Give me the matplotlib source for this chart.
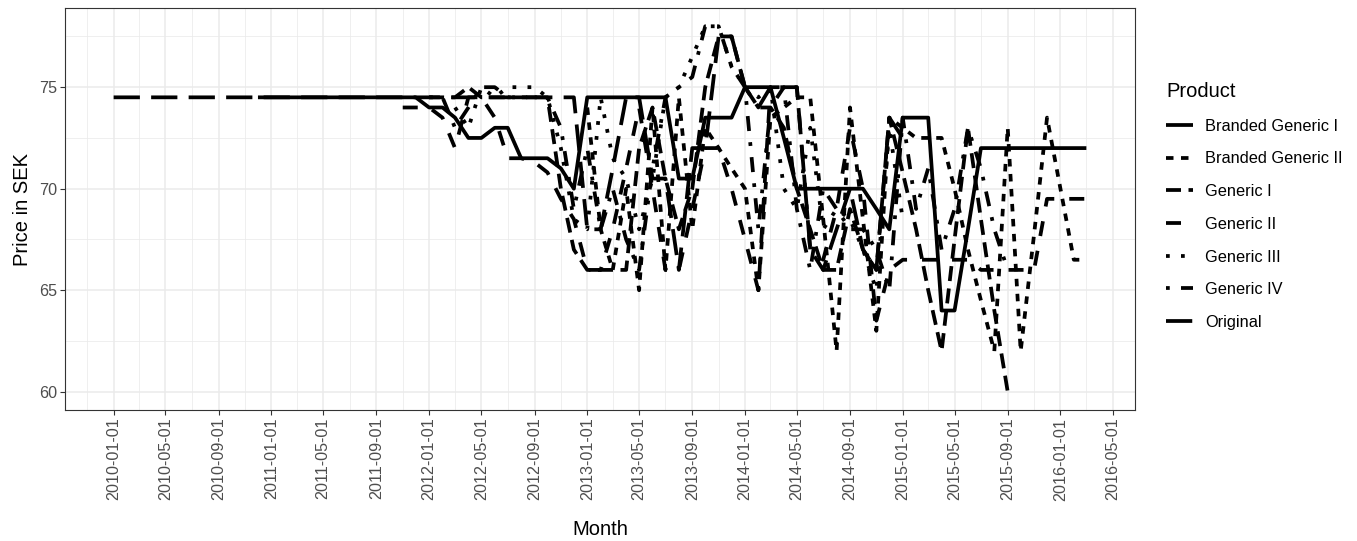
import numpy as np
import pandas as pd
import matplotlib
matplotlib.use('Agg')
import matplotlib.pyplot as plt
from matplotlib.lines import Line2D

plt.rcParams['font.family'] = ['Liberation Sans', 'DejaVu Sans']

# monthly prices, first month 2010-01; each series starts at its own month
months = pd.date_range('2010-01-01', '2016-03-01', freq='MS')

products = ['Branded Generic I', 'Branded Generic II', 'Generic I', 'Generic II',
            'Generic III', 'Generic IV', 'Original']

# start index (months after 2010-01) and values
bg1_start = 11
bg1 = [74.5] * 13 + [74, 74, 73.5, 72.5, 72.5, 73, 73, 71.5, 71.5, 71.5, 71, 70] \
      + [74.5] * 7 + [70.5, 70.5, 73.5, 73.5, 73.5, 75, 75, 75, 72.5, 70, 70, 70, 70, 70, 70,
                      69, 68, 73.5, 73.5, 73.5, 64, 64, 68, 72] + [72] * 8

bg2_start = 36
bg2 = [74, 68, 66, 70, 65, 74, 66, 74.5, 68, 73, 72, 71, 70, 65, 73.5, 74, 74.5,
       74.5, 68.5, 62, 74, 68.5, 63, 73.5, 73, 72.5, 72.5, 72.5, 70, 67, 64.5,
       62, 73, 62, 67.75, 73.5, 70, 66.5, 66.5]

g1_start = 24
g1 = [74.5, 74.5, 74.5, 75, 74.5, 74.5, 74.5, 74.5, 74.5, 74.5, 70, 67,
      66, 66, 66, 66, 72, 74, 70.5, 68, 70, 75, 77.5, 77.5, 75, 74, 74, 73, 70,
      68, 66, 66, 69, 67, 66, 73.5, 70.8, 68, 65, 62, 67.5, 73, 68.5, 64, 60]

g2_start = 22
g2 = [74, 74, 74, 73.5, 72, 74.5, 74.5, 73.5, 71.5, 71.5, 71.3, 70.8, 69.5, 68.5,
      66, 66, 68, 71, 74, 70, 66, 66, 69, 72, 72, 70, 67.5, 65, 75, 75, 75, 67,
      66.5, 69, 73, 70, 63.5, 66, 66.5, 66.5, 66.5, 66.5, 66.5, 66.5, 66, 66, 66,
      66, 66, 69.5, 69.5, 69.5, 69.5]

g3_start = 26
g3 = [74, 73, 75, 74.5, 75, 75, 75, 74.5, 72, 68.5, 68, 74.5, 71.5, 70.5, 68,
      70.5, 74.5, 75, 76.5, 78, 78, 76, 75, 74.5, 75, 70, 69, 73, 68, 69, 68.5,
      67, 65, 73, 68.5]

g4_start = 24
g4 = [74.5, 74.5, 73, 74, 75, 75, 74.5, 74.5, 74.5, 74.5, 73, 69, 72, 68,
      70, 67.5, 66, 71, 74.5, 75, 75.5, 78, 78, 76, 75, 68, 74, 75, 69, 66, 70,
      69, 68, 68, 67, 65, 73.5, 69, 71, 67, 69, 73, 71, 68, 66]

orig_start = 0
orig = [74.5] * 36 + [68, 68, 71, 74.5, 74.5, 70.5, 70.5, 66, 72, 72, 77.5, 77.5,
                      75, 74, 75, 75, 75, 67, 66, 68, 70, 67, 66, 73.5, 72.5]

starts = [bg1_start, bg2_start, g1_start, g2_start, g3_start, g4_start, orig_start]
values = [bg1, bg2, g1, g2, g3, g4, orig]

# ggplot default linetypes: solid, 22, 42, 44, 13, 1343, 73
dashes = [None, (2, 2), (4, 2), (4, 4), (1, 3), (1, 3, 4, 3), (7, 3)]

fig = plt.figure(figsize=(13.57, 5.41), dpi=100)
ax = fig.add_axes([65 / 1357, 1 - 410 / 541, (1135 - 65) / 1357, (410 - 8) / 541])

lw = 2.7
for name, st, vals, d in zip(products, starts, values, dashes):
    y = np.full(len(months), np.nan)
    n = min(len(vals), len(months) - st)
    y[st:st + n] = vals[:n]
    if d is None:
        ax.plot(months, y, color='black', lw=lw, solid_capstyle='butt', zorder=3)
    else:
        ax.plot(months, y, color='black', lw=lw, dashes=d, dash_capstyle='butt', zorder=3)

# axes limits like ggplot (5% expansion)
span = months[-1] - months[0]
ax.set_xlim(months[0] - span * 0.05, months[-1] + span * 0.05)
ax.set_ylim(60 - 18 * 0.05, 78 + 18 * 0.05)

major = pd.date_range('2010-01-01', '2016-05-01', freq='4MS')
minor = pd.date_range('2009-11-01', '2016-03-01', freq='4MS')
ax.set_xticks(major)
ax.set_xticks(minor, minor=True)
ax.set_xticklabels([d.strftime('%Y-%m-%d') for d in major], rotation=90)
ax.set_yticks([60, 65, 70, 75])
ax.set_yticks([62.5, 67.5, 72.5, 77.5], minor=True)

ax.grid(which='major', color='#EBEBEB', lw=1.1, zorder=0)
ax.grid(which='minor', color='#EBEBEB', lw=0.55, zorder=0)
ax.set_axisbelow(True)
for s in ax.spines.values():
    s.set_color('#333333')
    s.set_linewidth(0.8)
ax.tick_params(which='major', length=3.5, width=0.8, color='#333333',
               labelsize=11.6, labelcolor='#4D4D4D', pad=2)
ax.tick_params(which='minor', length=0)

ax.set_xlabel('Month', fontsize=14.5, labelpad=14)
ax.set_ylabel('Price in SEK', fontsize=14.5, labelpad=5)

handles = []
for d in dashes:
    if d is None:
        handles.append(Line2D([], [], color='black', lw=lw, solid_capstyle='butt'))
    else:
        handles.append(Line2D([], [], color='black', lw=lw, dashes=d, dash_capstyle='butt'))
leg = fig.legend(handles, products, loc='upper left', bbox_to_anchor=(1166 / 1357, 1 - 82 / 541),
                 frameon=False, title='Product', fontsize=11.8, title_fontsize=14.5,
                 handlelength=1.65, handletextpad=0.72, labelspacing=1.08, alignment='left',
                 borderpad=0, borderaxespad=0)

fig.savefig('out.png', dpi=100)
